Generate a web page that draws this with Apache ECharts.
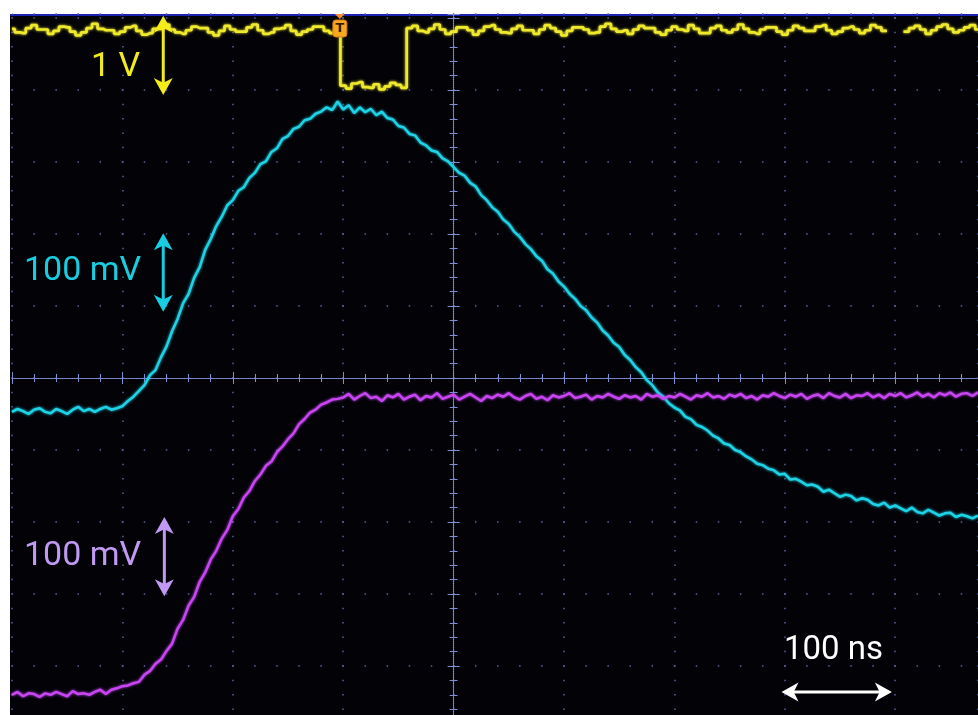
<!DOCTYPE html>
<html>
<head>
<meta charset="utf-8">
<script src="https://cdn.jsdelivr.net/npm/echarts@6/dist/echarts.min.js"></script>
<style>
  html, body { margin: 0; padding: 0; background: #fff; }
  #scope {
    position: absolute; left: 0; top: 0; width: 978px; height: 715px;
    background:
      linear-gradient(#fff, #fff) 0 0 / 978px 14px no-repeat,
      linear-gradient(#fff, #fff) 0 0 / 10px 715px no-repeat,
      linear-gradient(#1c22b4, #1c22b4) 10px 14px / 968px 2px no-repeat,
      #020207;
  }
</style>
</head>
<body>
<div id="scope"></div>
<script>
// ---- Acquisition record: time base in ns, samples in screen divisions ----
const sampleStart = -400;   // ns, first sample
const samplePeriod = 5;     // ns between samples
const timeMin = -400, timeMax = 475;
const divMin = -5, divMax = 5.0556;
const triggerTime = -103;   // ns

// Channel 1 (yellow): gate pulse, dropped samples shown as null
const ch1Div = [
  4.85,4.80,4.79,4.86,4.90,4.84,4.84,4.78,4.82,4.88,4.87,4.81,4.76,4.80,4.86,4.92,4.85,4.83,4.83,4.78,
  4.81,4.87,4.89,4.82,4.77,4.79,4.85,4.85,4.91,4.84,4.80,4.78,4.83,4.88,4.86,4.86,4.80,4.76,4.82,4.89,
  4.84,4.81,4.81,4.87,4.91,4.83,4.78,4.80,4.85,4.86,4.90,4.82,4.77,4.81,4.84,4.88,4.88,4.82,4.79,4.84,
  4.06,4.02,4.09,4.11,4.04,4.03,4.08,4.01,4.05,4.10,4.07,4.03,
  4.86,4.89,4.82,4.80,4.85,4.91,4.84,4.78,4.81,4.87,4.87,4.83,4.77,4.82,4.88,4.90,4.84,4.80,4.79,4.85,
  4.89,4.83,4.83,4.78,4.84,4.90,4.86,4.81,4.76,4.82,4.87,4.87,4.84,4.79,4.80,4.88,4.92,4.85,4.81,4.83,
  4.78,4.84,4.89,4.86,4.86,4.80,4.77,4.83,4.88,4.84,4.82,4.90,4.85,4.79,4.79,4.86,4.89,4.83,4.80,4.84,
  4.91,4.85,4.80,4.78,4.84,4.87,4.87,4.81,4.77,4.83,4.89,4.86,4.82,4.82,4.88,4.90,4.83,4.78,4.81,4.86,
  4.88,4.84,4.79,4.83,4.90,4.87,4.82,
  null,null,null,
  4.81,4.86,4.89,4.84,4.78,4.83,4.88,4.91,4.85,4.80,4.83,4.87,4.90,4.84
];

// Channel 2 (cyan): shaped pulse
const ch2Div = [
  -0.47,-0.43,-0.46,-0.50,-0.44,-0.42,-0.47,-0.49,-0.43,-0.46,-0.50,-0.44,-0.40,-0.46,-0.43,-0.47,-0.43,-0.40,-0.44,-0.42,
  -0.39,-0.32,-0.26,-0.18,-0.10,0.04,0.11,0.29,0.44,0.65,0.82,1.04,1.17,1.39,1.54,1.78,1.93,2.11,2.24,2.40,
  2.47,2.60,2.65,2.78,2.85,2.97,3.01,3.14,3.19,3.32,3.36,3.46,3.49,3.58,3.60,3.67,3.70,3.76,3.72,3.84,
  3.73,3.79,3.68,3.76,3.69,3.74,3.65,3.70,3.61,3.59,3.50,3.48,3.39,3.37,3.27,3.23,3.16,3.14,3.05,3.01,
  2.93,2.85,2.81,2.71,2.66,2.54,2.47,2.37,2.31,2.20,2.14,2.03,1.96,1.86,1.79,1.69,1.63,1.51,1.45,1.34,
  1.27,1.17,1.10,1.00,0.94,0.84,0.77,0.66,0.59,0.49,0.43,0.32,0.25,0.15,0.08,-0.03,-0.10,-0.20,-0.26,-0.35,
  -0.41,-0.45,-0.54,-0.57,-0.65,-0.68,-0.73,-0.80,-0.84,-0.91,-0.93,-1.00,-1.03,-1.09,-1.13,-1.19,-1.21,-1.26,-1.28,-1.34,
  -1.33,-1.41,-1.40,-1.44,-1.49,-1.48,-1.51,-1.58,-1.55,-1.60,-1.65,-1.62,-1.64,-1.70,-1.67,-1.69,-1.75,-1.77,-1.73,-1.80,
  -1.77,-1.81,-1.85,-1.80,-1.86,-1.88,-1.83,-1.87,-1.91,-1.88,-1.87,-1.93,-1.90,-1.92,-1.95,-1.91
];

// Channel 3 (purple): step response
const ch3Div = [
  -4.40,-4.36,-4.42,-4.38,-4.39,-4.43,-4.38,-4.40,-4.36,-4.39,-4.42,-4.35,-4.39,-4.38,-4.40,-4.36,-4.33,-4.39,-4.33,-4.31,-4.28,
  -4.27,-4.24,-4.22,-4.12,-4.07,-3.97,-3.91,-3.79,-3.69,-3.48,-3.36,-3.16,-3.04,-2.83,-2.70,-2.52,-2.40,-2.23,-2.11,-1.92,
  -1.82,-1.66,-1.57,-1.43,-1.34,-1.22,-1.16,-1.03,-0.95,-0.85,-0.77,-0.64,-0.57,-0.48,-0.44,-0.37,-0.34,-0.30,-0.29,
  -0.27,-0.22,-0.30,-0.25,-0.21,-0.28,-0.26,-0.32,-0.24,-0.27,-0.22,-0.30,-0.26,-0.23,-0.31,-0.25,-0.27,-0.21,-0.29,-0.26,
  -0.23,-0.30,-0.26,-0.22,-0.27,-0.32,-0.25,-0.28,-0.23,-0.26,-0.21,-0.27,-0.30,-0.25,-0.22,-0.29,-0.26,-0.31,-0.24,-0.27,
  -0.25,-0.21,-0.28,-0.26,-0.23,-0.30,-0.25,-0.27,-0.22,-0.26,-0.29,-0.24,-0.27,-0.25,-0.30,-0.22,-0.26,-0.24,-0.29,-0.25,
  -0.27,-0.22,-0.26,-0.30,-0.24,-0.26,-0.21,-0.27,-0.25,-0.29,-0.23,-0.26,-0.22,-0.28,-0.25,-0.30,-0.24,-0.26,-0.21,-0.25,
  -0.28,-0.23,-0.26,-0.22,-0.29,-0.25,-0.23,-0.28,-0.21,-0.25,-0.27,-0.22,-0.28,-0.24,-0.25,-0.21,-0.27,-0.23,-0.28,-0.22,
  -0.25,-0.21,-0.27,-0.24,-0.20,-0.26,-0.22,-0.27,-0.21,-0.24,-0.20,-0.26,-0.22,-0.21,-0.25,-0.20
];

// Scale bars: [time ns, divisions] end points
const ch1ScaleBar = [[-263, 5.03], [-263, 3.93]];
const ch2ScaleBar = [[-263, 2.01], [-263, 0.92]];
const ch3ScaleBar = [[-262, -1.93], [-262, -3.03]];
const timeScaleBar = [[297, -4.36], [397, -4.36]];

// ---- Styling ----
const colors = {
  ch1: '#efe92e', ch1Note: '#f3ec1a',
  ch2: '#1fd3e6', ch2Note: '#19cde0',
  ch3: '#c846f2', ch3Note: '#c09af2',
  grid: '#5a60a8', cross: '#7c8dd2'
};

function toPairs(values) {
  return values.map((v, i) => [sampleStart + i * samplePeriod, v]);
}

function xAx(position, interval, tickLen, extra) {
  return Object.assign({
    type: 'value', min: timeMin, max: timeMax, interval: interval, position: position,
    axisLabel: { show: false },
    axisLine: { show: false, onZero: true, onZeroAxisIndex: 0 },
    axisTick: { show: true, inside: false, length: tickLen, lineStyle: { color: colors.cross, width: 1 } },
    splitLine: { show: false }
  }, extra || {});
}
function yAx(position, interval, tickLen, extra) {
  return Object.assign({
    type: 'value', min: divMin, max: divMax, interval: interval, position: position,
    axisLabel: { show: false },
    axisLine: { show: false, onZero: true, onZeroAxisIndex: 0 },
    axisTick: { show: true, inside: false, length: tickLen, lineStyle: { color: colors.cross, width: 1 } },
    splitLine: { show: false }
  }, extra || {});
}

function trace(name, values, color, extra) {
  return Object.assign({
    name: name, type: 'line', data: toPairs(values),
    showSymbol: false, symbol: 'none', connectNulls: false, clip: true,
    lineStyle: { color: color, width: 2.5, shadowBlur: 3, shadowColor: color },
    itemStyle: { color: color },
    emphasis: { disabled: true },
    z: 3
  }, extra || {});
}

const chart = echarts.init(document.getElementById('scope'), null, { renderer: 'canvas' });

chart.setOption({
  animation: false,
  backgroundColor: 'transparent',
  grid: { left: 12, top: 14, width: 966, height: 724, containLabel: false, outerBoundsMode: 'none' },
  xAxis: [
    xAx('bottom', 100, 6, {
      axisLine: { show: true, onZero: true, onZeroAxisIndex: 0,
        lineStyle: { color: colors.cross, width: 1.2, type: [1, 1] } },
      splitLine: { show: true,
        lineStyle: { color: colors.grid, width: 1.5, type: [1.5, 12.9], dashOffset: 11.15 } }
    }),
    xAx('top', 100, 6),
    xAx('bottom', 20, 4),
    xAx('top', 20, 4)
  ],
  yAxis: [
    yAx('left', 1, 6, {
      axisLine: { show: true, onZero: true, onZeroAxisIndex: 0,
        lineStyle: { color: colors.cross, width: 1.2, type: [1, 1] } },
      splitLine: { show: true,
        lineStyle: { color: colors.grid, width: 1.5, type: [1.5, 20.58], dashOffset: 0.75 } }
    }),
    yAx('right', 1, 6),
    yAx('left', 0.2, 4),
    yAx('right', 0.2, 4)
  ],
  series: [
    trace('CH1', ch1Div, colors.ch1, {
      step: 'middle',
      lineStyle: { color: colors.ch1, width: 2.7, shadowBlur: 3, shadowColor: colors.ch1 }
    }),
    trace('CH2', ch2Div, colors.ch2),
    trace('CH3', ch3Div, colors.ch3)
  ]
});

// Double-headed scale arrow between two data points, placed through the axes
function scaleArrow(bar, color) {
  const a = chart.convertToPixel({ gridIndex: 0 }, bar[0]);
  const b = chart.convertToPixel({ gridIndex: 0 }, bar[1]);
  const dx = b[0] - a[0], dy = b[1] - a[1];
  const len = Math.hypot(dx, dy);
  const u = [dx / len, dy / len];
  const n = [-u[1], u[0]];
  const L = 17, W = 19;
  function head(tip, dir) {
    const c = [tip[0] + dir[0] * L, tip[1] + dir[1] * L];
    return [
      tip,
      [c[0] + n[0] * W / 2, c[1] + n[1] * W / 2],
      [tip[0] + dir[0] * L * 0.72, tip[1] + dir[1] * L * 0.72],
      [c[0] - n[0] * W / 2, c[1] - n[1] * W / 2]
    ];
  }
  const back = [-u[0], -u[1]];
  return {
    type: 'group', z: 10, silent: true,
    children: [
      { type: 'line', z: 10, shape: {
          x1: a[0] + u[0] * L * 0.6, y1: a[1] + u[1] * L * 0.6,
          x2: b[0] - u[0] * L * 0.6, y2: b[1] - u[1] * L * 0.6 },
        style: { stroke: color, lineWidth: 3 } },
      { type: 'polygon', z: 10, shape: { points: head(a, u) }, style: { fill: color } },
      { type: 'polygon', z: 10, shape: { points: head(b, back) }, style: { fill: color } }
    ]
  };
}

// Channel / timebase annotations and trigger marker
const trigX = chart.convertToPixel({ xAxisIndex: 0 }, triggerTime);
const topY = chart.convertToPixel({ yAxisIndex: 0 }, divMax);
const labelFont = '34px Roboto';

chart.setOption({
  graphic: [
    scaleArrow(ch1ScaleBar, colors.ch1Note),
    scaleArrow(ch2ScaleBar, colors.ch2Note),
    scaleArrow(ch3ScaleBar, colors.ch3Note),
    scaleArrow(timeScaleBar, '#ffffff'),
    { type: 'text', z: 10, x: 91, y: 67, style: { text: '1 V', font: labelFont, fill: colors.ch1Note, verticalAlign: 'middle' } },
    { type: 'text', z: 10, x: 24, y: 271, style: { text: '100 mV', font: labelFont, fill: colors.ch2Note, verticalAlign: 'middle' } },
    { type: 'text', z: 10, x: 24, y: 556, style: { text: '100 mV', font: labelFont, fill: colors.ch3Note, verticalAlign: 'middle' } },
    { type: 'text', z: 10, x: 784, y: 651, style: { text: '100 ns', font: '33px Roboto', fill: '#ffffff', verticalAlign: 'middle' } },
    {
      type: 'group', z: 10, x: trigX, y: topY,
      children: [
        { type: 'polygon', z: 10, shape: { points: [[-5, 0], [5, 0], [0, 5]] }, style: { fill: '#f28c3a' } },
        { type: 'rect', z: 10, shape: { x: -7, y: 6, width: 14, height: 17, r: 3 }, style: { fill: '#f6a91e', stroke: '#d9781a', lineWidth: 1 } },
        { type: 'text', z: 11, style: { x: 0, y: 15, text: 'T', font: 'bold 13px "DejaVu Sans"', fill: '#3a1a00', align: 'center', verticalAlign: 'middle' } }
      ]
    }
  ]
});
</script>
</body>
</html>
